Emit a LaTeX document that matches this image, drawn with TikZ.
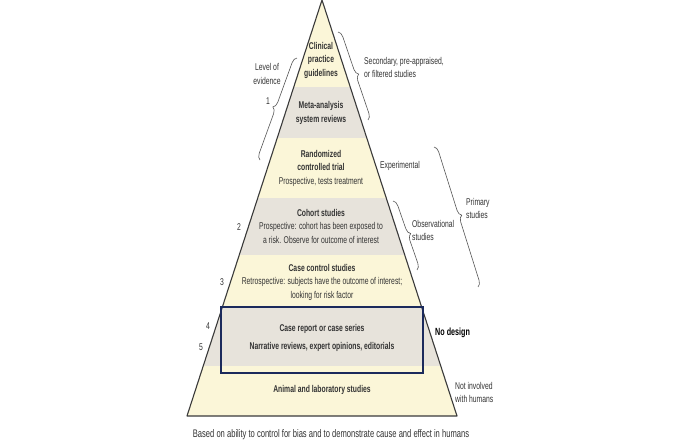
\documentclass[tikz,border=0pt]{standalone}
\usepackage{fontspec}
\setmainfont{Liberation Sans}[FakeStretch=0.69]
\usetikzlibrary{decorations.pathreplacing}
\definecolor{pyel}{HTML}{FBF6D8}
\definecolor{pgray}{HTML}{E7E3DB}
\definecolor{navy}{HTML}{1B2A5C}
\definecolor{edgec}{HTML}{3A3A3A}
\definecolor{txtc}{HTML}{333333}
\definecolor{bracec}{HTML}{555555}
\begin{document}
\begin{tikzpicture}[x=1pt,y=-1pt,
  bandtext/.style={align=center, text=txtc, font=\fontsize{9.85}{13.5}\selectfont, inner sep=0pt},
  sidetext/.style={align=left, anchor=west, text=txtc, font=\fontsize{9.85}{13}\selectfont, inner sep=0pt},
  numtext/.style={text=txtc, font=\fontsize{9.85}{10}\selectfont, inner sep=0pt},
  bracedraw/.style={draw=bracec, line width=0.6pt, decorate, decoration={brace, amplitude=6pt}}
]
\useasboundingbox (0,0) rectangle (680,442);
\fill[white] (0,0) rectangle (680,442);
\coordinate (apex) at (322,0);
\coordinate (bl) at (187,416);
\coordinate (br) at (457,416);
\begin{scope}
  \clip (apex) -- (bl) -- (br) -- cycle;
  \fill[pyel] (180,0) rectangle (470,416);
  \fill[pgray] (180,87) rectangle (470,138);
  \fill[pgray] (180,198) rectangle (470,255);
  \fill[pgray] (180,307) rectangle (470,366);
\end{scope}
\draw[edgec, line width=1.1pt, line join=round] (apex) -- (bl) -- (br) -- cycle;
\node[draw=navy, line width=2.2pt, minimum width=202pt, minimum height=66pt, inner sep=0pt] (box) at (322,340) {};

% band texts
\node[bandtext] (clin) at (321,60) {\textbf{Clinical}\\\textbf{practice}\\\textbf{guidelines}};
\node[bandtext] (meta) at (321,113) {\textbf{Meta-analysis}\\\textbf{system reviews}};
\node[bandtext] (rct) at (321,168) {\textbf{Randomized}\\\textbf{controlled trial}\\Prospective, tests treatment};
\node[bandtext] (coh) at (321,226) {\textbf{Cohort studies}\\Prospective: cohort has been exposed to\\a risk. Observe for outcome of interest};
\node[bandtext] (cc) at (322,282) {\textbf{Case control studies}\\Retrospective: subjects have the outcome of interest;\\looking for risk factor};
\node[bandtext, font=\fontsize{9.85}{18}\selectfont] (crep) at (322,338) {\textbf{Case report or case series}\\\textbf{Narrative reviews, expert opinions, editorials}};
\node[bandtext] (anim) at (322,390) {\textbf{Animal and laboratory studies}};

% left labels
\node[numtext, align=center, font=\fontsize{9.85}{13.5}\selectfont] (loe) at (267,74) {Level of\\evidence};
\node[numtext] (n1) at (268,101) {1};
\node[numtext] (n2) at (239,227) {2};
\node[numtext] (n3) at (222,282) {3};
\node[numtext] (n4) at (208,326) {4};
\node[numtext] (n5) at (201,347) {5};

% right labels
\node[sidetext] (sec) at (364,67) {Secondary, pre-appraised,\\or filtered studies};
\node[sidetext] (exp) at (380,166) {Experimental};
\node[sidetext] (obs) at (412,230) {Observational\\studies};
\node[sidetext] (prim) at (466,208) {Primary\\studies};
\node[sidetext, font=\bfseries\fontsize{10.4}{13}\selectfont, text=black] (nod) at (435,333) {No design};
\node[sidetext] (notinv) at (455,392) {Not involved\\with humans};

% caption
\node[numtext, font=\fontsize{11}{12}\selectfont] (cap) at (331,435) {Based on ability to control for bias and to demonstrate cause and effect in humans};

% braces
\coordinate (b1s) at (260,160);
\coordinate (b1e) at (297,58);
\draw[bracedraw] (b1s) -- (b1e);
\coordinate (b2s) at (338,32);
\coordinate (b2e) at (368,120);
\draw[bracedraw] (b2s) -- (b2e);
\coordinate (b3s) at (393,201);
\coordinate (b3e) at (417,270);
\draw[bracedraw] (b3s) -- (b3e);
\coordinate (b4s) at (434,147);
\coordinate (b4e) at (478,287);
\draw[bracedraw] (b4s) -- (b4e);
\end{tikzpicture}
\end{document}
